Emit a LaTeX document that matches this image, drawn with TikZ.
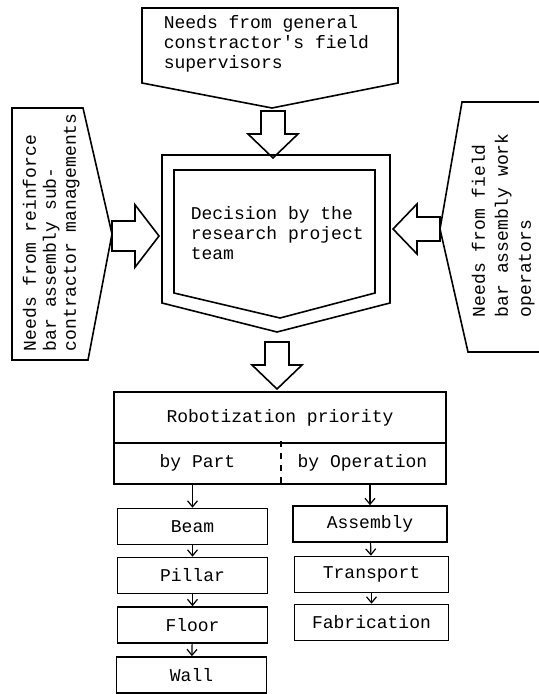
\documentclass[tikz,border=0pt]{standalone}
\usepackage{fontspec}
\setmonofont{Liberation Mono}
\usetikzlibrary{arrows.meta}
\usetikzlibrary{positioning}
\usetikzlibrary{calc}
\newcommand{\tyfont}{\ttfamily\fontsize{9}{10}\selectfont}

\tikzset{
  txt/.style={font=\tyfont, align=left, inner sep=0pt},
  partbox/.style={draw, line width=0.8pt, minimum width=75pt, minimum height=18pt, inner sep=0pt, font=\tyfont},
  flow/.style={line width=0.6pt, -{Straight Barb[length=3pt,width=5pt]}},
  fatarr/.pic={\draw[line width=0.8pt] (-12,0) -- (-12,23) -- (-25,23) -- (0,47) -- (25,23) -- (12,23) -- (12,0) -- cycle;}
}

\begin{document}
\begin{tikzpicture}[x=0.5pt, y=-0.5pt, line width=0.8pt]
					\useasboundingbox (0,0) rectangle (539,694);
					%needs boxes
					\draw (142,8) -- (398,8) -- (398,83) -- (272,108) -- (142,83) -- cycle;
					\node[txt, anchor=north west] (gensup) at (163,15) {Needs from general\\constractor's field\\supervisors};
					\draw (12,108) -- (83,108) -- (112,234) -- (88,360) -- (12,360) -- cycle;
					\node[txt, rotate=90, anchor=north west] (subcon) at (22,352) {Needs from reinforce\\bar assembly sub-\\contractor managements};
					\draw (545,102) -- (462,102) -- (440,229) -- (468,352) -- (545,352);
					\node[txt, rotate=90, anchor=north west, font=\ttfamily\fontsize{9}{11.5}\selectfont] (workop) at (471,318) {Needs from field\\bar assembly work\\operators};
					%decision box
					\draw (162,155) -- (390,155) -- (390,303) -- (277,332) -- (162,303) -- cycle;
					\draw (174,170) -- (375,170) -- (375,293) -- (280,318) -- (174,293) -- cycle;
					\node[txt, anchor=north west] (team) at (190,206) {Decision by the\\research project\\team};
					%fat arrows
					\pic at (273,111) {fatarr};
					\pic[rotate=90, xscale=1.25] at (112,236) {fatarr};
					\pic[rotate=-90] at (440,229) {fatarr};
					\pic at (277,342) {fatarr};
					%priority table
					\node[txt, minimum width=165pt, minimum height=24.5pt] (prio) at (280,417.5) {Robotization priority};
					\node[txt, minimum width=82.5pt, minimum height=20.5pt] (bypart) at (197.5,462.5) {by Part};
					\node[txt, minimum width=82.5pt, minimum height=20.5pt] (byop) at (362.5,462.5) {by Operation};
					\draw (prio.north west) rectangle (byop.south east);
					\draw (prio.south west) -- (prio.south east);
					\draw[dashed] (bypart.north east) -- (bypart.south east);
					%by part
					\node[partbox] (beam) at (192.5,526.5) {Beam};
					\node[partbox] (pillar) at (192.5,575.5) {Pillar};
					\node[partbox] (floor) at (192.5,625) {Floor};
					\node[partbox] (wall) at (191.5,675) {Wall};
					%by operation
					\node[partbox, minimum width=77pt] (assem) at (370,524) {Assembly};
					\node[partbox, minimum width=77pt] (trans) at (371.5,574.5) {Transport};
					\node[partbox, minimum width=77pt] (fabri) at (371.5,622.5) {Fabrication};
					%arrows
					\draw[flow] (bypart.south -| beam) -- (beam);
					\draw[flow] (beam) -- (pillar);
					\draw[flow] (pillar) -- (floor);
					\draw[flow] (floor) -- (wall);
					\draw[flow] (byop.south -| assem) -- (assem);
					\draw[flow] (assem) -- (trans);
					\draw[flow] (trans) -- (fabri);
				\end{tikzpicture}
\end{document}
